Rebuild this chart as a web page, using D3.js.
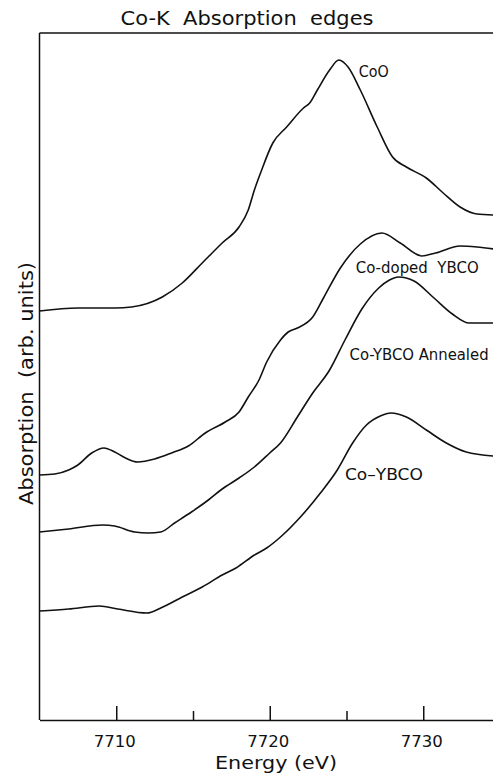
<!DOCTYPE html>
<html>
<head>
<meta charset="utf-8">
<script src="https://cdn.jsdelivr.net/npm/d3@7"></script>
<style>
  html, body { margin: 0; padding: 0; background: #fff; }
  svg { display: block; }
  text { font-family: "DejaVu Sans", sans-serif; fill: #111; }
</style>
</head>
<body>
<div id="chart"></div>
<script>
// Co K-edge XANES spectra (energy in eV, absorption in arbitrary units, curves offset vertically)
const energyCoO = [7705.0, 7707.5, 7709.9, 7711.0, 7713.0, 7714.3, 7715.6, 7716.9, 7718.0, 7718.6, 7719.0, 7719.4, 7720.2, 7721.1, 7722.2, 7722.6, 7723.1, 7723.9, 7724.5, 7725.1, 7725.9, 7727.0, 7728.0, 7728.9, 7730.2, 7731.3, 7732.4, 7733.5, 7734.6];
const absCoO    = [4.09, 4.12, 4.12, 4.13, 4.23, 4.37, 4.57, 4.77, 4.93, 5.10, 5.30, 5.47, 5.77, 5.93, 6.12, 6.17, 6.30, 6.50, 6.60, 6.53, 6.30, 5.93, 5.63, 5.53, 5.42, 5.27, 5.13, 5.06, 5.05];

const energyDoped = [7705.0, 7706.0, 7706.9, 7707.5, 7708.4, 7709.2, 7709.9, 7710.6, 7711.4, 7712.5, 7713.6, 7714.7, 7715.8, 7717.1, 7718.0, 7718.6, 7719.3, 7719.8, 7720.7, 7721.2, 7721.8, 7722.8, 7723.5, 7724.6, 7725.9, 7727.3, 7728.5, 7729.9, 7730.8, 7732.4, 7733.5, 7734.6];
const absDoped    = [2.45, 2.46, 2.50, 2.55, 2.67, 2.72, 2.68, 2.62, 2.58, 2.61, 2.67, 2.74, 2.87, 2.98, 3.08, 3.23, 3.40, 3.58, 3.80, 3.88, 3.92, 4.03, 4.22, 4.52, 4.76, 4.87, 4.77, 4.64, 4.67, 4.74, 4.73, 4.71];

const energyAnnealed = [7705.0, 7706.9, 7709.1, 7709.9, 7711.2, 7712.1, 7712.9, 7713.8, 7714.9, 7716.0, 7716.9, 7718.0, 7719.0, 7720.0, 7720.7, 7721.8, 7722.8, 7723.9, 7724.9, 7726.0, 7727.1, 7727.8, 7728.4, 7729.4, 7730.7, 7731.9, 7733.0, 7733.7, 7734.6];
const absAnnealed    = [1.88, 1.91, 1.95, 1.94, 1.88, 1.87, 1.88, 1.97, 2.08, 2.20, 2.31, 2.42, 2.53, 2.67, 2.77, 3.03, 3.27, 3.50, 3.80, 4.11, 4.32, 4.40, 4.43, 4.39, 4.22, 4.06, 3.97, 3.97, 3.97];

const energyYBCO = [7705.0, 7706.9, 7708.9, 7710.1, 7712.0, 7712.9, 7714.3, 7715.6, 7716.9, 7717.8, 7719.0, 7719.8, 7720.7, 7722.0, 7723.3, 7724.4, 7725.4, 7726.3, 7727.2, 7727.9, 7728.9, 7730.2, 7731.5, 7732.8, 7734.6];
const absYBCO    = [1.09, 1.11, 1.14, 1.11, 1.07, 1.12, 1.23, 1.33, 1.45, 1.52, 1.65, 1.72, 1.83, 2.03, 2.27, 2.50, 2.77, 2.95, 3.04, 3.07, 3.03, 2.90, 2.77, 2.68, 2.64];

const seriesNames = ["CoO", "Co-doped  YBCO", "Co-YBCO Annealed", "Co\u2013YBCO"];
// label anchor points in data units (energy, absorption)
const labelEnergy = [7725.8, 7725.6, 7725.2, 7724.9];
const labelAbs    = [6.43, 4.47, 3.60, 2.40];

const xTicksMajor = [7710, 7720, 7730];
const xTicksMinor = [7715, 7725];
const xDomain = [7705, 7735];
const yDomain = [0, 6.87];

const titleText = "Co-K  Absorption  edges";
const xLabelText = "Energy (eV)";
const yLabelText = "Absorption  (arb. units)";

const W = 493, H = 777;
const plotLeft = 39.5, plotRight = 500, plotTop = 33, plotBottom = 720;

const svg = d3.select("#chart").append("svg")
  .attr("width", W).attr("height", H)
  .attr("viewBox", `0 0 ${W} ${H}`);

const x = d3.scaleLinear().domain(xDomain).range([plotLeft, plotRight]);
const y = d3.scaleLinear().domain(yDomain).range([plotBottom, plotTop]);

const series = [
  { e: energyCoO, a: absCoO },
  { e: energyDoped, a: absDoped },
  { e: energyAnnealed, a: absAnnealed },
  { e: energyYBCO, a: absYBCO }
];

// frame: top line, left axis
svg.append("line").attr("x1", plotLeft).attr("x2", W).attr("y1", plotTop).attr("y2", plotTop)
  .attr("stroke", "#111").attr("stroke-width", 1.5);
svg.append("line").attr("x1", plotLeft).attr("x2", plotLeft).attr("y1", plotTop).attr("y2", plotBottom)
  .attr("stroke", "#111").attr("stroke-width", 1.5);

// bottom axis with inward major/minor ticks
const axisMajor = d3.axisBottom(x).tickValues(xTicksMajor).tickSizeInner(-14).tickSizeOuter(0)
  .tickFormat(d3.format("d"));
const gx = svg.append("g").attr("transform", `translate(0,${plotBottom})`).call(axisMajor);
gx.select(".domain").attr("stroke", "#111").attr("stroke-width", 1.5);
gx.selectAll(".tick line").attr("stroke", "#111").attr("stroke-width", 1.5);
gx.selectAll(".tick text").attr("font-size", 16.5).attr("fill", "#111")
  .attr("font-family", "DejaVu Sans, sans-serif").attr("dy", 0).attr("y", 27)
  .attr("dx", -2);

const axisMinor = d3.axisBottom(x).tickValues(xTicksMinor).tickSizeInner(-9).tickSizeOuter(0).tickFormat("");
const gxm = svg.append("g").attr("transform", `translate(0,${plotBottom})`).call(axisMinor);
gxm.select(".domain").remove();
gxm.selectAll(".tick line").attr("stroke", "#111").attr("stroke-width", 1.5);

// spectra
const line = d3.line()
  .x(d => x(d[0]))
  .y(d => y(d[1]))
  .curve(d3.curveMonotoneX);

svg.append("g").selectAll("path")
  .data(series)
  .join("path")
  .attr("d", s => line(s.e.map((e, i) => [e, s.a[i]])))
  .attr("fill", "none")
  .attr("stroke", "#111")
  .attr("stroke-width", 1.6)
  .attr("stroke-linejoin", "round");

// curve labels
const labelLengths = [30, 123, 139, 78];
svg.append("g").selectAll("text")
  .data(seriesNames)
  .join("text")
  .attr("x", (d, i) => x(labelEnergy[i]))
  .attr("y", (d, i) => y(labelAbs[i]))
  .attr("font-size", 15)
  .attr("textLength", (d, i) => labelLengths[i])
  .attr("lengthAdjust", "spacingAndGlyphs")
  .style("white-space", "pre")
  .text(d => d);

// title
svg.append("text")
  .attr("x", 247).attr("y", 25)
  .attr("text-anchor", "middle")
  .attr("font-size", 20)
  .attr("textLength", 253)
  .attr("lengthAdjust", "spacingAndGlyphs")
  .style("white-space", "pre")
  .text(titleText);

// axis titles
svg.append("text")
  .attr("x", 276).attr("y", 769)
  .attr("text-anchor", "middle")
  .attr("font-size", 18.5)
  .attr("textLength", 122)
  .attr("lengthAdjust", "spacingAndGlyphs")
  .text(xLabelText);

svg.append("text")
  .attr("transform", "translate(33,383.5) rotate(-90)")
  .attr("text-anchor", "middle")
  .attr("font-size", 20)
  .attr("textLength", 243)
  .attr("lengthAdjust", "spacingAndGlyphs")
  .style("white-space", "pre")
  .text(yLabelText);
</script>
</body>
</html>
